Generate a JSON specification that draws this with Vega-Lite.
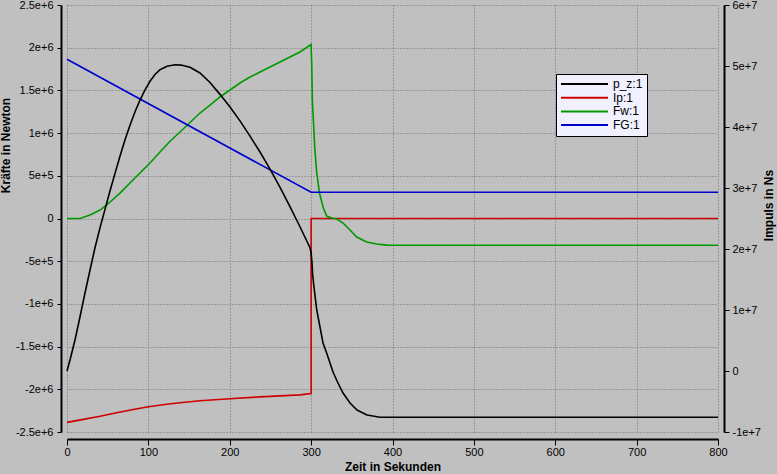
{
  "$schema": "https://vega.github.io/schema/vega-lite/v6.json",
  "width": 651,
  "height": 427,
  "autosize": {"type": "none"},
  "padding": {"left": 67, "top": 5, "right": 59, "bottom": 42},
  "background": "#c0c0c0",
  "config": {
    "view": {"stroke": null},
    "font": "Liberation Sans",
    "axis": {
      "labelFont": "Liberation Sans", "labelFontSize": 11, "labelColor": "black",
      "titleFont": "Liberation Sans", "titleFontSize": 12, "titleFontWeight": "bold", "titleColor": "black",
      "domainColor": "black", "domainWidth": 2, "tickColor": "black", "tickWidth": 1,
      "gridColor": "#707070", "gridDash": [1, 2], "gridOpacity": 1, "gridWidth": 1,
      "labelOverlap": false, "labelFlush": false
    },
    "legend": {
      "labelFont": "Liberation Sans", "labelFontSize": 12, "labelColor": "black"
    }
  },
  "data": {
    "values": [
      {"s": "p_z:1", "i": 1, "t": 0, "v": 0},
      {"s": "p_z:1", "i": 2, "t": 3.7, "v": 1800000},
      {"s": "p_z:1", "i": 3, "t": 9.8, "v": 5080000},
      {"s": "p_z:1", "i": 4, "t": 16, "v": 8900000},
      {"s": "p_z:1", "i": 5, "t": 22.1, "v": 12790000},
      {"s": "p_z:1", "i": 6, "t": 28.3, "v": 16560000},
      {"s": "p_z:1", "i": 7, "t": 34.4, "v": 20200000},
      {"s": "p_z:1", "i": 8, "t": 40.6, "v": 23500000},
      {"s": "p_z:1", "i": 9, "t": 46.7, "v": 26500000},
      {"s": "p_z:1", "i": 10, "t": 52.8, "v": 29500000},
      {"s": "p_z:1", "i": 11, "t": 59, "v": 32400000},
      {"s": "p_z:1", "i": 12, "t": 65.1, "v": 35200000},
      {"s": "p_z:1", "i": 13, "t": 71.3, "v": 37900000},
      {"s": "p_z:1", "i": 14, "t": 77.4, "v": 40300000},
      {"s": "p_z:1", "i": 15, "t": 83.6, "v": 42500000},
      {"s": "p_z:1", "i": 16, "t": 89.7, "v": 44400000},
      {"s": "p_z:1", "i": 17, "t": 95.9, "v": 46100000},
      {"s": "p_z:1", "i": 18, "t": 102, "v": 47500000},
      {"s": "p_z:1", "i": 19, "t": 108.1, "v": 48600000},
      {"s": "p_z:1", "i": 20, "t": 114.3, "v": 49400000},
      {"s": "p_z:1", "i": 21, "t": 122.9, "v": 49950000},
      {"s": "p_z:1", "i": 22, "t": 132.7, "v": 50200000},
      {"s": "p_z:1", "i": 23, "t": 140, "v": 50150000},
      {"s": "p_z:1", "i": 24, "t": 151.2, "v": 49800000},
      {"s": "p_z:1", "i": 25, "t": 163.4, "v": 48850000},
      {"s": "p_z:1", "i": 26, "t": 175.7, "v": 47300000},
      {"s": "p_z:1", "i": 27, "t": 188, "v": 45350000},
      {"s": "p_z:1", "i": 28, "t": 200.3, "v": 43280000},
      {"s": "p_z:1", "i": 29, "t": 212.6, "v": 41000000},
      {"s": "p_z:1", "i": 30, "t": 224.9, "v": 38500000},
      {"s": "p_z:1", "i": 31, "t": 237.2, "v": 35900000},
      {"s": "p_z:1", "i": 32, "t": 249.5, "v": 33100000},
      {"s": "p_z:1", "i": 33, "t": 261.8, "v": 30100000},
      {"s": "p_z:1", "i": 34, "t": 274, "v": 26950000},
      {"s": "p_z:1", "i": 35, "t": 286.3, "v": 23650000},
      {"s": "p_z:1", "i": 36, "t": 298.6, "v": 20200000},
      {"s": "p_z:1", "i": 37, "t": 300, "v": 19340000},
      {"s": "p_z:1", "i": 38, "t": 301, "v": 17870000},
      {"s": "p_z:1", "i": 39, "t": 301.9, "v": 15740000},
      {"s": "p_z:1", "i": 40, "t": 303.5, "v": 13770000},
      {"s": "p_z:1", "i": 41, "t": 306.9, "v": 10000000},
      {"s": "p_z:1", "i": 42, "t": 310.9, "v": 7210000},
      {"s": "p_z:1", "i": 43, "t": 314.6, "v": 4590000},
      {"s": "p_z:1", "i": 44, "t": 319.1, "v": 2950000},
      {"s": "p_z:1", "i": 45, "t": 323.2, "v": 1310000},
      {"s": "p_z:1", "i": 46, "t": 326.9, "v": -160000},
      {"s": "p_z:1", "i": 47, "t": 333, "v": -1970000},
      {"s": "p_z:1", "i": 48, "t": 339.2, "v": -3610000},
      {"s": "p_z:1", "i": 49, "t": 347.8, "v": -5250000},
      {"s": "p_z:1", "i": 50, "t": 356.4, "v": -6390000},
      {"s": "p_z:1", "i": 51, "t": 368.7, "v": -7210000},
      {"s": "p_z:1", "i": 52, "t": 384.6, "v": -7590000},
      {"s": "p_z:1", "i": 53, "t": 800, "v": -7590000},

      {"s": "Ip:1", "i": 1, "t": 0, "v": -2387000},
      {"s": "Ip:1", "i": 2, "t": 20, "v": -2352000},
      {"s": "Ip:1", "i": 3, "t": 40.6, "v": -2316000},
      {"s": "Ip:1", "i": 4, "t": 61, "v": -2274000},
      {"s": "Ip:1", "i": 5, "t": 81.5, "v": -2236000},
      {"s": "Ip:1", "i": 6, "t": 100, "v": -2204000},
      {"s": "Ip:1", "i": 7, "t": 122.5, "v": -2176000},
      {"s": "Ip:1", "i": 8, "t": 138.9, "v": -2157000},
      {"s": "Ip:1", "i": 9, "t": 163.4, "v": -2134000},
      {"s": "Ip:1", "i": 10, "t": 200.3, "v": -2110000},
      {"s": "Ip:1", "i": 11, "t": 237.2, "v": -2089000},
      {"s": "Ip:1", "i": 12, "t": 286.3, "v": -2065000},
      {"s": "Ip:1", "i": 13, "t": 300, "v": -2050000},
      {"s": "Ip:1", "i": 14, "t": 300, "v": 0},
      {"s": "Ip:1", "i": 15, "t": 800, "v": 0},

      {"s": "Fw:1", "i": 1, "t": 0, "v": 0},
      {"s": "Fw:1", "i": 2, "t": 16, "v": 0},
      {"s": "Fw:1", "i": 3, "t": 28.3, "v": 41000},
      {"s": "Fw:1", "i": 4, "t": 40.6, "v": 99000},
      {"s": "Fw:1", "i": 5, "t": 48.8, "v": 158000},
      {"s": "Fw:1", "i": 6, "t": 65.1, "v": 298000},
      {"s": "Fw:1", "i": 7, "t": 77.4, "v": 416000},
      {"s": "Fw:1", "i": 8, "t": 89.7, "v": 533000},
      {"s": "Fw:1", "i": 9, "t": 102, "v": 650000},
      {"s": "Fw:1", "i": 10, "t": 114.3, "v": 779000},
      {"s": "Fw:1", "i": 11, "t": 126.6, "v": 905000},
      {"s": "Fw:1", "i": 12, "t": 138.9, "v": 1013000},
      {"s": "Fw:1", "i": 13, "t": 151.2, "v": 1124000},
      {"s": "Fw:1", "i": 14, "t": 163.4, "v": 1235000},
      {"s": "Fw:1", "i": 15, "t": 175.7, "v": 1329000},
      {"s": "Fw:1", "i": 16, "t": 188, "v": 1423000},
      {"s": "Fw:1", "i": 17, "t": 200.3, "v": 1505000},
      {"s": "Fw:1", "i": 18, "t": 212.6, "v": 1587000},
      {"s": "Fw:1", "i": 19, "t": 224.9, "v": 1657000},
      {"s": "Fw:1", "i": 20, "t": 237.2, "v": 1715000},
      {"s": "Fw:1", "i": 21, "t": 249.5, "v": 1774000},
      {"s": "Fw:1", "i": 22, "t": 261.8, "v": 1833000},
      {"s": "Fw:1", "i": 23, "t": 274, "v": 1891000},
      {"s": "Fw:1", "i": 24, "t": 286.3, "v": 1950000},
      {"s": "Fw:1", "i": 25, "t": 299.9, "v": 2037000},
      {"s": "Fw:1", "i": 26, "t": 300.7, "v": 1821000},
      {"s": "Fw:1", "i": 27, "t": 301.5, "v": 1388000},
      {"s": "Fw:1", "i": 28, "t": 303.2, "v": 1071000},
      {"s": "Fw:1", "i": 29, "t": 304.4, "v": 837000},
      {"s": "Fw:1", "i": 30, "t": 306.9, "v": 533000},
      {"s": "Fw:1", "i": 31, "t": 308.5, "v": 427000},
      {"s": "Fw:1", "i": 32, "t": 310, "v": 310000},
      {"s": "Fw:1", "i": 33, "t": 311.8, "v": 240000},
      {"s": "Fw:1", "i": 34, "t": 315, "v": 123000},
      {"s": "Fw:1", "i": 35, "t": 319.1, "v": 29000},
      {"s": "Fw:1", "i": 36, "t": 325.3, "v": 6000},
      {"s": "Fw:1", "i": 37, "t": 331.4, "v": -6000},
      {"s": "Fw:1", "i": 38, "t": 339.2, "v": -53000},
      {"s": "Fw:1", "i": 39, "t": 347.8, "v": -135000},
      {"s": "Fw:1", "i": 40, "t": 356, "v": -217000},
      {"s": "Fw:1", "i": 41, "t": 368.3, "v": -275000},
      {"s": "Fw:1", "i": 42, "t": 380.6, "v": -298000},
      {"s": "Fw:1", "i": 43, "t": 392.9, "v": -312000},
      {"s": "Fw:1", "i": 44, "t": 800, "v": -314000},

      {"s": "FG:1", "i": 1, "t": 0, "v": 1865000},
      {"s": "FG:1", "i": 2, "t": 300, "v": 307000},
      {"s": "FG:1", "i": 3, "t": 800, "v": 307000}
    ]
  },
  "layer": [
    {
      "transform": [{"filter": "datum.s != 'p_z:1'"}],
      "mark": {"type": "line", "strokeWidth": 1.6, "interpolate": "linear"},
      "encoding": {
        "x": {
          "field": "t", "type": "quantitative",
          "scale": {"domain": [0, 800], "nice": false, "zero": false},
          "axis": {
            "values": [0, 100, 200, 300, 400, 500, 600, 700, 800],
            "orient": "bottom", "offset": 7, "tickSize": 6, "labelPadding": 1,
            "grid": true, "title": "Zeit in Sekunden",
            "titleX": 325.5, "titleY": 31, "titleAlign": "center", "titleBaseline": "alphabetic"
          }
        },
        "y": {
          "field": "v", "type": "quantitative",
          "scale": {"domain": [-2500000, 2500000], "nice": false, "zero": false},
          "axis": {
            "values": [-2500000, -2000000, -1500000, -1000000, -500000, 0, 500000, 1000000, 1500000, 2000000, 2500000],
            "labelExpr": "datum.value == 0 ? '0' : replace(format(datum.value, '~e'), '\u2212', '-')",
            "orient": "left", "offset": 6, "tickSize": 4, "labelPadding": 4,
            "grid": true, "title": "Kräfte in Newton",
            "titleAngle": 270, "titleX": -52, "titleY": 140, "titleAlign": "center", "titleBaseline": "alphabetic"
          }
        },
        "color": {
          "field": "s", "type": "nominal",
          "scale": {"domain": ["p_z:1", "Ip:1", "Fw:1", "FG:1"], "range": ["#000000", "#cc0000", "#009900", "#0000cc"]},
          "legend": {
            "title": null, "orient": "none", "legendX": 489, "legendY": 69,
            "fillColor": "#f0f0ff", "strokeColor": "black", "padding": 4,
            "symbolType": "M-1,0H8.4", "symbolSize": 100, "symbolStrokeWidth": 2,
            "labelOffset": 41, "rowPadding": 1.7
          }
        },
        "order": {"field": "i", "type": "quantitative"}
      }
    },
    {
      "transform": [{"filter": "datum.s == 'p_z:1'"}],
      "mark": {"type": "line", "strokeWidth": 1.6, "interpolate": "linear"},
      "encoding": {
        "x": {"field": "t", "type": "quantitative"},
        "y": {
          "field": "v", "type": "quantitative",
          "scale": {"domain": [-10000000, 60000000], "nice": false, "zero": false},
          "axis": {
            "values": [-10000000, 0, 10000000, 20000000, 30000000, 40000000, 50000000, 60000000],
            "labelExpr": "datum.value == 0 ? '0' : replace(format(datum.value, '~e'), '\u2212', '-')",
            "orient": "right", "offset": 6, "tickSize": 5, "labelPadding": 3,
            "grid": false, "title": "Impuls in Ns",
            "titleAngle": 270, "titleX": 48, "titleY": 200, "titleAlign": "center", "titleBaseline": "alphabetic"
          }
        },
        "color": {"field": "s", "type": "nominal"},
        "order": {"field": "i", "type": "quantitative"}
      }
    }
  ],
  "resolve": {"scale": {"y": "independent"}}
}
